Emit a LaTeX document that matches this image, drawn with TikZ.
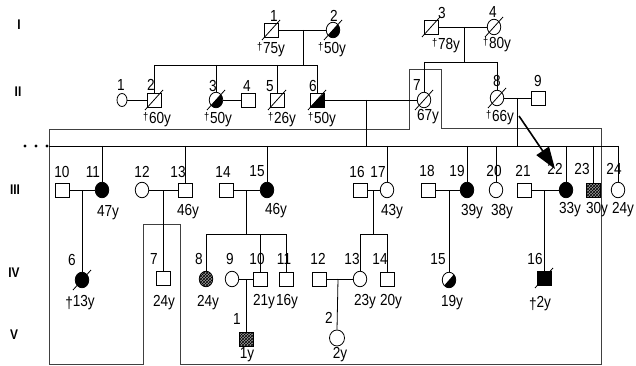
\documentclass[tikz,border=0pt]{standalone}
\usepackage{fontspec}
\setmainfont[FakeStretch=0.85]{Liberation Sans}
\usetikzlibrary{shapes.geometric,arrows.meta,patterns}
\newcommand\mydag{{\fontsize{11}{11}\selectfont\raisebox{3pt}{†}\hspace{0.8pt}}}
\newcommand\bigdag{{\raisebox{-1.5pt}{†}}}
\newcommand\slashit[1]{\draw[ln] ([shift={(-9,10)}]#1.center) -- ([shift={(9,-10)}]#1.center);}
\begin{document}
\begin{tikzpicture}[x=1pt,y=-1pt,
  ln/.style={line width=0.8pt, draw=black},
  sq/.style={rectangle, draw, line width=0.8pt, minimum size=14pt, inner sep=0pt},
  ci/.style={ellipse, draw, line width=0.8pt, minimum width=13.5pt, minimum height=15.5pt, inner sep=0pt},
  aff/.style={fill=black},
  hatch/.style={preaction={fill=black!40}, pattern=crosshatch, pattern color=black},
  half/.style={path picture={\fill (path picture bounding box.south west) -- (path picture bounding box.south east) -- (path picture bounding box.north east) -- cycle;}},
  lbl/.style={font=\fontsize{16}{16}\selectfont, inner sep=0pt},
  gen/.style={font=\fontsize{14}{14}\selectfont\bfseries, inner sep=0pt},
  loopline/.style={line width=0.7pt, draw=black!75}
]
\useasboundingbox (0,0) rectangle (636,366);

% generation labels
\node[gen] (gI) at (19,25) {I};
\node[gen] (gII) at (18,92) {II};
\node[gen] (gIII) at (15,190) {III};
\node[gen] (gIV) at (14,273) {IV};
\node[gen] (gV) at (14,335) {V};

% big loop
\draw[loopline] (409,69) -- (441,69) -- (441,128) -- (601,128) -- (601,364) -- (180,364) -- (180,224) -- (143,224) -- (143,364) -- (49,364) -- (49,129) -- (409,129) -- cycle;

% ---------- Generation I
\node[sq] (I1) at (271,30) {};
\node[ci,half] (I2) at (333,30) {};
\node[sq] (I3) at (431,27) {};
\node[ci] (I4) at (494,27) {};
\slashit{I1}\slashit{I2}\slashit{I3}\slashit{I4}
\node[lbl] (nI1) at (274,16) {1};
\node[lbl] (nI2) at (334,16) {2};
\node[lbl] (nI3) at (442,13) {3};
\node[lbl] (nI4) at (493,12) {4};
\node[lbl] (aI1) at (271,50) {\mydag 75y};
\node[lbl] (aI2) at (332,50) {\mydag 50y};
\node[lbl] (aI3) at (446,46) {\mydag 78y};
\node[lbl] (aI4) at (497,45) {\mydag 80y};

% ---------- Generation II
\node[ci, minimum width=10pt, minimum height=13pt] (II1) at (122,100) {};
\node[sq] (II2) at (154,100) {};
\node[ci,half] (II3) at (216,100) {};
\node[sq] (II4) at (248,100) {};
\node[sq] (II5) at (277,100) {};
\node[sq,half] (II6) at (317,100) {};
\node[ci] (II7) at (424,100) {};
\node[ci] (II8) at (497,98) {};
\node[sq] (II9) at (538,98) {};
\slashit{II2}\slashit{II3}\slashit{II5}\slashit{II6}\slashit{II7}\slashit{II8}
\node[lbl] (nII1) at (121,85) {1};
\node[lbl] (nII2) at (151,85) {2};
\node[lbl] (nII3) at (213,86) {3};
\node[lbl] (nII4) at (247,86) {4};
\node[lbl] (nII5) at (270,86) {5};
\node[lbl] (nII6) at (313,86) {6};
\node[lbl] (nII7) at (417,85) {7};
\node[lbl] (nII8) at (497,81) {8};
\node[lbl] (nII9) at (538,81) {9};
\node[lbl] (aII2) at (157,120) {\mydag 60y};
\node[lbl] (aII3) at (218,120) {\mydag 50y};
\node[lbl] (aII5) at (282,120) {\mydag 26y};
\node[lbl] (aII6) at (322,120) {\mydag 50y};
\node[lbl] (aII7) at (428,117) {67y};
\node[lbl] (aII8) at (500,118) {\mydag 66y};

% ---------- Generation III
\node[sq] (III10) at (62,190) {};
\node[ci,aff] (III11) at (102,190) {};
\node[ci] (III12) at (142,190) {};
\node[sq] (III13) at (185,190) {};
\node[sq] (III14) at (226,190) {};
\node[ci,aff] (III15) at (267,190) {};
\node[sq] (III16) at (360,190) {};
\node[ci] (III17) at (387,190) {};
\node[sq] (III18) at (428,190) {};
\node[ci,aff] (III19) at (467,190) {};
\node[ci] (III20) at (496,190) {};
\node[sq] (III21) at (524,190) {};
\node[ci,aff] (III22) at (566,190) {};
\node[sq,hatch] (III23) at (593,190) {};
\node[ci] (III24) at (618,190) {};
\node[lbl] (nIII10) at (62,172) {10};
\node[lbl] (nIII11) at (93,172) {11};
\node[lbl] (nIII12) at (142,172) {12};
\node[lbl] (nIII13) at (178,172) {13};
\node[lbl] (nIII14) at (223,172) {14};
\node[lbl] (nIII15) at (257,171) {15};
\node[lbl] (nIII16) at (357,172) {16};
\node[lbl] (nIII17) at (378,172) {17};
\node[lbl] (nIII18) at (427,171) {18};
\node[lbl] (nIII19) at (457,171) {19};
\node[lbl] (nIII20) at (494,171) {20};
\node[lbl] (nIII21) at (523,171) {21};
\node[lbl] (nIII22) at (555,169) {22};
\node[lbl] (nIII23) at (582,169) {23};
\node[lbl] (nIII24) at (614,169) {24};
\node[lbl] (aIII11) at (108,213) {47y};
\node[lbl] (aIII13) at (188,212) {46y};
\node[lbl] (aIII15) at (276,211) {46y};
\node[lbl] (aIII17) at (392,212) {43y};
\node[lbl] (aIII19) at (472,212) {39y};
\node[lbl] (aIII20) at (502,212) {38y};
\node[lbl] (aIII22) at (570,210) {33y};
\node[lbl] (aIII23) at (597,210) {30y};
\node[lbl] (aIII24) at (623,210) {24y};

% ---------- Generation IV
\node[ci,aff] (IV6) at (82,280) {};
\node[sq] (IV7) at (163,278) {};
\node[ci,hatch] (IV8) at (206,279) {};
\node[ci] (IV9) at (232,279) {};
\node[sq] (IV10) at (260,279) {};
\node[sq] (IV11) at (286,279) {};
\node[sq] (IV12) at (319,279) {};
\node[ci] (IV13) at (360,279) {};
\node[sq] (IV14) at (387,279) {};
\node[ci,half] (IV15) at (449,280) {};
\node[sq,aff] (IV16) at (544,278) {};
\slashit{IV6}\slashit{IV16}
\node[lbl] (nIV6) at (72,260) {6};
\node[lbl] (nIV7) at (154,259) {7};
\node[lbl] (nIV8) at (199,259) {8};
\node[lbl] (nIV9) at (230,259) {9};
\node[lbl] (nIV10) at (257,259) {10};
\node[lbl] (nIV11) at (284,259) {11};
\node[lbl] (nIV12) at (318,259) {12};
\node[lbl] (nIV13) at (352,259) {13};
\node[lbl] (nIV14) at (380,259) {14};
\node[lbl] (nIV15) at (438,259) {15};
\node[lbl] (nIV16) at (535,259) {16};
\node[lbl] (aIV6) at (80,303) {\bigdag 13y};
\node[lbl] (aIV7) at (164,303) {24y};
\node[lbl] (aIV8) at (208,303) {24y};
\node[lbl] (aIV10) at (264,302) {21y};
\node[lbl] (aIV11) at (287,302) {16y};
\node[lbl] (aIV13) at (365,302) {23y};
\node[lbl] (aIV14) at (391,302) {20y};
\node[lbl] (aIV15) at (452,303) {19y};
\node[lbl] (aIV16) at (540,304) {\bigdag 2y};

% ---------- Generation V
\node[sq,hatch] (V1) at (246,339) {};
\node[ci, minimum width=15pt, minimum height=16pt] (V2) at (337,338) {};
\node[lbl] (nV1) at (237,319) {1};
\node[lbl] (nV2) at (329,318) {2};
\node[lbl] (aV1) at (247,355) {1y};
\node[lbl] (aV2) at (340,355) {2y};

% ---------- coordinates for lines
\coordinate (dI12) at (303,30);
\coordinate (sI12) at (303,65);
\coordinate (dI34) at (464,27);
\coordinate (sI34) at (464,62);
\coordinate (dII67) at (366,100);
\coordinate (dII89) at (517,98);
\coordinate (sIII) at (49,146);
\coordinate (dIII1011) at (82,190);
\coordinate (dIII1213) at (163,190);
\coordinate (dIII1415) at (246,190);
\coordinate (sIV1415) at (246,234);
\coordinate (dIII1617) at (373,190);
\coordinate (sIV1617) at (373,234);
\coordinate (dIII1819) at (449,190);
\coordinate (dIII2122) at (544,190);
\coordinate (dIV910) at (246,279);
\coordinate (dIV1213) at (338,279);

% mating lines
\draw[ln] (I1.east) -- (I2.west);
\draw[ln] (I3.east) -- (I4.west);
\draw[ln] (II1.east) -- (II2.west);
\draw[ln] (II3.east) -- (II4.west);
\draw[ln] (II6.east) -- (II7.west);
\draw[ln] (II8.east) -- (II9.west);
\draw[ln] (III10.east) -- (III11.west);
\draw[ln] (III12.east) -- (III13.west);
\draw[ln] (III14.east) -- (III15.west);
\draw[ln] (III16.east) -- (III17.west);
\draw[ln] (III18.east) -- (III19.west);
\draw[ln] (III21.east) -- (III22.west);
\draw[ln] (IV9.east) -- (IV10.west);
\draw[ln] (IV12.east) -- (IV13.west);

% descent and sibship I-1 x I-2
\draw[ln] (dI12) -- (sI12);
\draw[ln] (II2.north |- sI12) -- (II6.north |- sI12);
\foreach \n in {II2,II3,II5,II6} \draw[ln] (\n.north |- sI12) -- (\n.north);
% I-3 x I-4
\draw[ln] (dI34) -- (sI34);
\draw[ln] (II7.north |- sI34) -- (II8.north |- sI34);
\foreach \n in {II7,II8} \draw[ln] (\n.north |- sI34) -- (\n.north);
% generation III sibship
\draw[ln] (dII67) -- (dII67 |- sIII);
\draw[ln] (dII89) -- (dII89 |- sIII);
\draw[ln] (sIII) -- (III24.north |- sIII);
\foreach \n in {III11,III13,III15,III17,III19,III20,III22,III23,III24} \draw[ln] (\n.north |- sIII) -- (\n.north);
\fill (25,146) circle (1.7);
\fill (36,146) circle (1.7);
\fill (47,146) circle (1.7);
% generation IV
\draw[ln] (dIII1011) -- (IV6.north);
\draw[ln] (dIII1213) -- (IV7.north);
\draw[ln] (dIII1415) -- (sIV1415);
\draw[ln] (IV8.north |- sIV1415) -- (IV11.north |- sIV1415);
\foreach \n in {IV8,IV10,IV11} \draw[ln] (\n.north |- sIV1415) -- (\n.north);
\draw[ln] (dIII1617) -- (sIV1617);
\draw[ln] (IV13.north |- sIV1617) -- (IV14.north |- sIV1617);
\foreach \n in {IV13,IV14} \draw[ln] (\n.north |- sIV1617) -- (\n.north);
\draw[ln] (dIII1819) -- (IV15.north);
\draw[ln] (dIII2122) -- (IV16.north);
% generation V
\draw[ln] (dIV910) -- (V1.north);
\draw[ln] (dIV1213) -- (V2.north);

% proband arrow
\coordinate (arS) at (519,116);
\coordinate (arE) at (555,169);
\draw[line width=1.6pt, -{Triangle[length=22pt,width=15pt]}] (arS) -- (arE);
\end{tikzpicture}
\end{document}
